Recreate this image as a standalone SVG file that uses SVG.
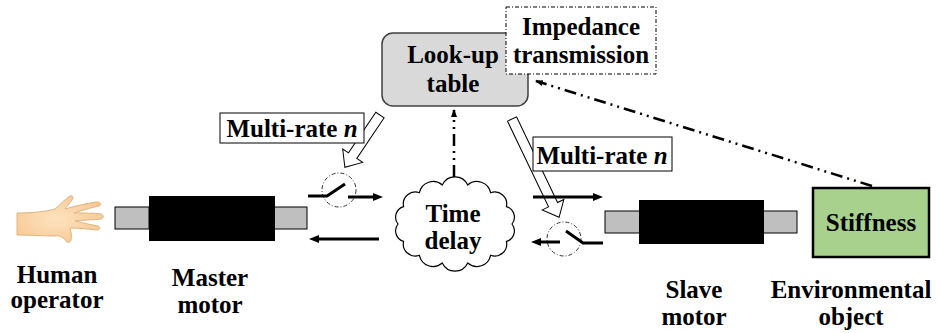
<svg xmlns="http://www.w3.org/2000/svg" width="939" height="333" viewBox="0 0 939 333" font-family="'Liberation Serif', 'Times New Roman', serif">
  <style>
    text { font-family: "Liberation Serif", "Times New Roman", serif; font-weight: bold; font-size: 25px; fill: #000; text-anchor: middle; }
    .shaft { fill: #bfbfbf; stroke: #000; stroke-width: 1; }
    .body { fill: #000; }
    .sig { fill: none; stroke: #000; stroke-width: 3; }
    .dd { fill: none; stroke: #000; stroke-width: 2.5; stroke-dasharray: 12 5 2 5 2 5; }
    .sw { fill: none; stroke: #333; stroke-width: 1; stroke-dasharray: 4 2 1 2; }
    .hollow { fill: #fff; stroke: #000; stroke-width: 1; }
    .lbl { fill: #fff; stroke: #000; stroke-width: 1; }
  </style>
  <defs>
    <marker id="ah" viewBox="0 0 10 8" refX="1" refY="4" markerWidth="10" markerHeight="8" markerUnits="userSpaceOnUse" orient="auto">
      <path d="M0,0 L10,4 L0,8 Z" fill="#000"/>
    </marker>
    <marker id="ahs" viewBox="0 0 8 6" refX="7" refY="3" markerWidth="8" markerHeight="6" markerUnits="userSpaceOnUse" orient="auto">
      <path d="M0,0 L8,3 L0,6 Z" fill="#000"/>
    </marker>
    <radialGradient id="skin" cx="0.45" cy="0.5" r="0.6">
      <stop offset="0" stop-color="#fde3c0"/>
      <stop offset="1" stop-color="#f7c893"/>
    </radialGradient>
  </defs>

  <!-- hand of the operator -->
  <g id="human-operator">
    <path d="M17,213 C30,213 45,212 55,209 C60,205 65,199 70,196 C73,195 74,198 72,200 C69,204 66,207 65,209 C75,206 88,203 97,202 C101,202 102,205 99,206 C90,208 80,211 74,213 C84,213 94,213 101,214 C104,215 104,218 101,219 C92,220 83,220 75,221 C84,223 92,225 98,226 C101,227 100,230 97,230 C88,229 78,228 70,228 C71,232 72,236 71,240 C70,243 67,243 66,241 C64,238 60,235 56,236 C45,236 30,235 17,235 Z" fill="url(#skin)" stroke="#e2b47e" stroke-width="1"/>
    <text x="57" y="283">Human</text>
    <text x="57" y="308">operator</text>
  </g>

  <!-- master motor -->
  <g id="master-motor">
    <rect class="shaft" x="115" y="207" width="34" height="22"/>
    <rect class="shaft" x="274" y="207" width="33" height="22"/>
    <rect class="body" x="149" y="196" width="126" height="45"/>
    <text x="210" y="286">Master</text>
    <text x="210" y="313">motor</text>
  </g>

  <!-- look-up table -->
  <g id="look-up-table">
    <rect x="382" y="33" width="146" height="73" rx="11" fill="#d9d9d9" stroke="#404040" stroke-width="1.5"/>
    <text x="453" y="63">Look-up</text>
    <text x="453" y="92">table</text>
  </g>

  <!-- impedance transmission label -->
  <g id="impedance-transmission">
    <rect x="506" y="7" width="150" height="67" fill="#fff" stroke="#000" stroke-width="1" stroke-dasharray="4 2 1 2"/>
    <text x="581" y="35">Impedance</text>
    <text x="581" y="63">transmission</text>
  </g>

  <!-- communication time delay -->
  <g id="time-delay">
    <path d="M398,224 A11,11 0 0 1 403.6,206.6 A12,12 0 0 1 419.4,192.7 A14,14 0 0 1 442.3,185 A14,14 0 0 1 467.7,185 A14,14 0 0 1 490.6,192.7 A12,12 0 0 1 506.4,206.6 A11,11 0 0 1 512,224 A11,11 0 0 1 506.4,241.4 A12,12 0 0 1 490.6,255.3 A14,14 0 0 1 467.7,263 A14,14 0 0 1 442.3,263 A14,14 0 0 1 419.4,255.3 A12,12 0 0 1 403.6,241.4 A11,11 0 0 1 398,224 Z" fill="#fff" stroke="#000" stroke-width="1.2"/>
    <text x="453" y="222">Time</text>
    <text x="453" y="249">delay</text>
  </g>

  <!-- slave motor -->
  <g id="slave-motor">
    <rect class="shaft" x="605" y="211" width="35" height="22"/>
    <rect class="shaft" x="763" y="211" width="34" height="22"/>
    <rect class="body" x="639" y="200" width="125" height="44"/>
    <text x="694" y="298">Slave</text>
    <text x="694" y="325">motor</text>
  </g>

  <!-- environment -->
  <g id="environmental-object">
    <rect x="813" y="188" width="116" height="69" fill="#a9d18e" stroke="#000" stroke-width="2.5"/>
    <text x="871" y="231">Stiffness</text>
    <text x="851" y="298">Environmental</text>
    <text x="851" y="325">object</text>
  </g>

  <!-- connectors -->
  <g id="connectors">
    <!-- multi-rate hollow arrows -->
    <polygon class="hollow" transform="translate(380,115) rotate(123.9)" points="0,-5 49,-5 49,-12 63,0 49,12 49,5 0,5"/>
    <polygon class="hollow" transform="translate(512,119) rotate(64.4)" points="0,-5 95,-5 95,-12 109,0 95,12 95,5 0,5"/>

    <!-- master-side sampler and signals -->
    <circle class="sw" cx="339" cy="190" r="17"/>
    <path class="sig" d="M308,196 H327 L345,184"/>
    <path class="sig" d="M348,197 H374" marker-end="url(#ah)"/>
    <path class="sig" d="M379,239 H318" marker-end="url(#ah)"/>

    <!-- slave-side sampler and signals -->
    <path class="sig" d="M533,197 H594" marker-end="url(#ah)"/>
    <circle class="sw" cx="564" cy="239" r="17"/>
    <path class="sig" d="M603,243 H583 L566,231"/>
    <path class="sig" d="M560,242 H540" marker-end="url(#ah)"/>

    <!-- impedance path -->
    <path class="dd" d="M872,186 L536,81" marker-end="url(#ahs)"/>
    <path class="dd" d="M454,177 V110" marker-end="url(#ahs)"/>
  </g>

  <!-- multi-rate labels -->
  <g id="multi-rate-master">
    <rect class="lbl" x="220" y="113" width="144" height="30"/>
    <text x="292" y="137">Multi-rate <tspan font-style="italic">n</tspan></text>
  </g>
  <g id="multi-rate-slave">
    <rect class="lbl" x="533" y="137" width="139" height="34"/>
    <text x="602" y="164">Multi-rate <tspan font-style="italic">n</tspan></text>
  </g>
</svg>
